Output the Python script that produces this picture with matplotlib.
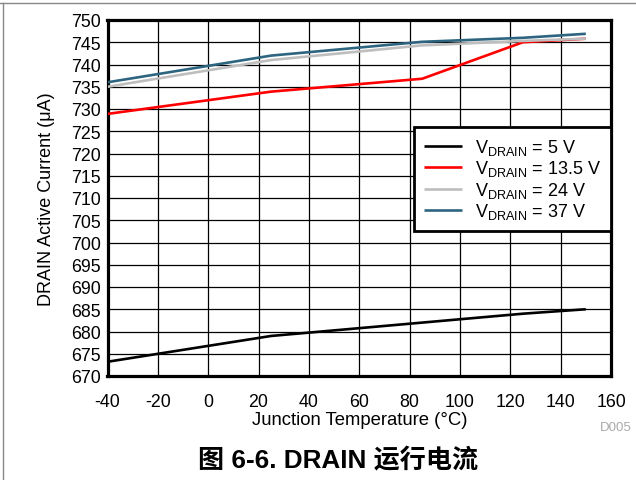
import matplotlib
matplotlib.use("Agg")
import matplotlib.pyplot as plt
from matplotlib.lines import Line2D

plt.rcParams['font.family'] = ['Liberation Sans', 'Noto Sans CJK SC', 'DejaVu Sans']
plt.rcParams['mathtext.fontset'] = 'custom'
plt.rcParams['mathtext.rm'] = 'Liberation Sans'

temps = [-40, 25, 85, 125, 150]
v5 = [673.2, 679.0, 682.0, 684.0, 685.0]
v13_5 = [728.9, 733.9, 736.8, 745.0, 745.8]
v24 = [735.0, 741.0, 744.3, 745.3, 745.8]
v37 = [736.0, 742.0, 745.1, 746.0, 746.9]

series = [
    (v5, '#000000', r'V$_{\mathregular{DRAIN}}$ = 5 V'),
    (v13_5, '#FF0000', r'V$_{\mathregular{DRAIN}}$ = 13.5 V'),
    (v24, '#BEBEBE', r'V$_{\mathregular{DRAIN}}$ = 24 V'),
    (v37, '#2D6580', r'V$_{\mathregular{DRAIN}}$ = 37 V'),
]

xticks = [-40, -20, 0, 20, 40, 60, 80, 100, 120, 140, 160]
yticks = list(range(670, 751, 5))

W, H = 636, 481
fig = plt.figure(figsize=(W / 100, H / 100), dpi=100)
ax = fig.add_axes([107.5 / W, 1 - 377 / H, (611 - 107.5) / W, (377 - 21) / H])

for vals, col, lab in series:
    ax.plot(temps, vals, color=col, lw=1.9, label=lab, solid_capstyle='butt', zorder=3)

ax.set_xlim(-40, 160)
ax.set_ylim(670, 750)
ax.set_xticks(xticks)
ax.set_yticks(yticks)
ax.set_xticklabels([str(t) for t in xticks])
ax.set_yticklabels([str(t) for t in yticks])
ax.tick_params(length=0, labelsize=12.8, colors='black')
ax.tick_params(axis='x', pad=12)
ax.tick_params(axis='y', pad=5)
ax.grid(True, color='black', lw=0.9)
ax.set_axisbelow(True)
for s in ax.spines.values():
    s.set_linewidth(2.3)
    s.set_color('black')

ax.set_xlabel('Junction Temperature (°C)', fontsize=13.3, labelpad=1)
ax.set_ylabel('DRAIN Active Current (μA)', fontsize=13, labelpad=11)

leg = ax.legend(loc='upper right', bbox_to_anchor=(1.0, 1 - (128 - 21) / (377 - 21)),
                fontsize=13, frameon=True, fancybox=False, borderpad=0.55,
                labelspacing=0.08, handlelength=2.1, handletextpad=0.7,
                borderaxespad=0.0)
leg.get_frame().set_edgecolor('black')
leg.get_frame().set_linewidth(2.0)
leg.get_frame().set_alpha(1)
leg.set_zorder(5)

fig.text(600 / W, 1 - 428 / H, 'D005', fontsize=9.5, color='#AAAAAA', ha='left', va='center')
fig.text(338 / W, 1 - 461 / H, '图 6-6. DRAIN 运行电流', fontsize=18.8, fontweight='bold',
         ha='center', va='center',
         family=['Liberation Sans', 'Noto Sans CJK SC'])

# page frame lines
fig.add_artist(Line2D([0, 1], [1 - 3.5 / H, 1 - 3.5 / H], color='#888888', lw=1.0,
                      transform=fig.transFigure))
fig.add_artist(Line2D([3.5 / W, 3.5 / W], [0, 1 - 3.5 / H], color='#888888', lw=1.0,
                      transform=fig.transFigure))

fig.savefig('out.png', dpi=100)
